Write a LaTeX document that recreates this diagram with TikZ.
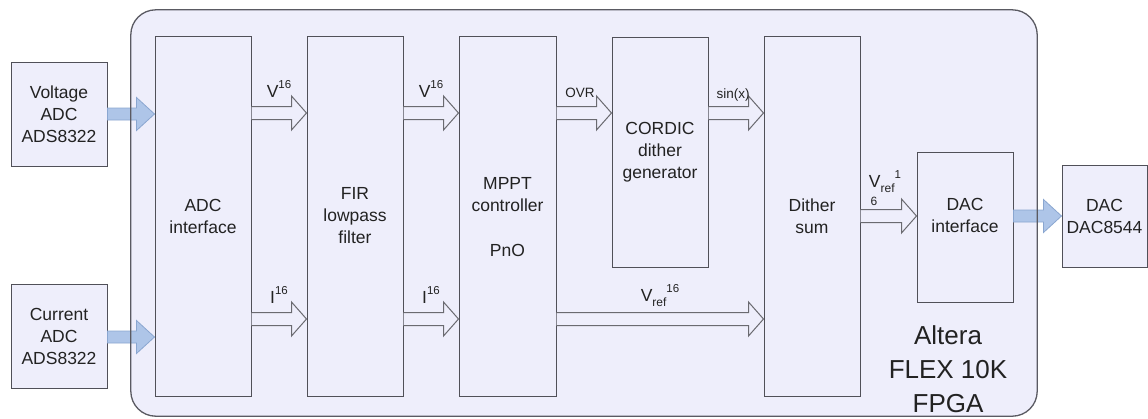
\documentclass[tikz,border=0pt]{standalone}
\usepackage{fontspec}
\setmainfont{Liberation Sans}
\usetikzlibrary{calc}
\definecolor{bg}{HTML}{EEEEFB}
\definecolor{edge}{HTML}{505058}
\definecolor{framegray}{HTML}{5A5A62}
\definecolor{arrgray}{HTML}{6A6A70}
\definecolor{blu}{HTML}{AEC5E8}
\definecolor{bluedge}{HTML}{8AA6D0}
\definecolor{txt}{HTML}{222222}
\newcommand\mainsz{\fontsize{17.5}{22}\selectfont}
\newcommand\smallsz{\fontsize{13.5}{16}\selectfont}
\newcommand\bigsz{\fontsize{26}{34}\selectfont}
\newcommand\supx[1]{\raisebox{0.5em}{\fontsize{11.5}{12}\selectfont #1}}
\newcommand\subx[1]{\raisebox{-0.3em}{\fontsize{12}{12}\selectfont #1}}
\newcommand\hollowarrow[2]{%
  \draw[harrow] ($(#1)+(0,-6.5)$) -- ($(#2)+(-15,-6.5)$) -- ($(#2)+(-15,-17)$) -- (#2)
    -- ($(#2)+(-15,17)$) -- ($(#2)+(-15,6.5)$) -- ($(#1)+(0,6.5)$);}
\newcommand\fatarrow[2]{%
  \draw[farrow] ($(#1)+(0,-6)$) -- ($(#2)+(-18,-6)$) -- ($(#2)+(-18,-16.5)$) -- (#2)
    -- ($(#2)+(-18,16.5)$) -- ($(#2)+(-18,6)$) -- ($(#1)+(0,6)$) -- cycle;}
\begin{document}
\begin{tikzpicture}[x=1pt,y=-1pt,
  blk/.style={draw=edge, fill=bg, line width=1pt, inner sep=0pt, align=center, font=\mainsz, text=txt},
  harrow/.style={draw=arrgray, fill=bg, line width=1pt, line join=miter},
  farrow/.style={draw=bluedge, fill=blu, line width=0.8pt, line join=miter},
  lbl/.style={inner sep=0pt, font=\mainsz, text=txt},
  slbl/.style={inner sep=0pt, font=\smallsz, text=txt},
  frameedge/.style={draw=framegray, line width=1.3pt}]
\useasboundingbox (0,0) rectangle (1148,418);

% FPGA frame (fill)
\node[fill=bg, rounded corners=25pt, minimum width=906pt, minimum height=406pt, inner sep=0pt] (fpga) at (584,213) {};

% outside boxes
\node[blk, minimum width=96pt, minimum height=104pt] (vadc) at (59,114) {Voltage\\ADC\\ADS8322};
\node[blk, minimum width=96pt, minimum height=104pt] (cadc) at (59,336) {Current\\ADC\\ADS8322};
\node[blk, minimum width=85pt, minimum height=102pt] (dac) at (1104.5,216) {DAC\\DAC8544};

% internal blocks
\node[blk, minimum width=96pt, minimum height=360pt] (adc) at (203,216) {ADC\\interface};
\node[blk, minimum width=96pt, minimum height=360pt] (fir) at (355,216) {FIR\\lowpass\\filter};
\node[blk, minimum width=97pt, minimum height=360pt] (mppt) at (507.5,216) {};
\node[lbl, align=center] (mpptt) at (507.5,194.5) {MPPT\\controller};
\node[lbl] (pno) at (507.5,250) {PnO};
\node[blk, minimum width=96pt, minimum height=230pt] (cordic) at (660,152) {CORDIC\\dither\\generator};
\node[blk, minimum width=96pt, minimum height=360pt] (dith) at (812,216) {Dither\\sum};
\node[blk, minimum width=96pt, minimum height=150pt] (dacif) at (965,227) {};
\node[lbl, align=center] (dacift) at (965,215.5) {DAC\\interface};

% connector end points
\coordinate (a1) at (adc.east |- 0,113);  \coordinate (b1) at (fir.west |- 0,113);
\coordinate (a2) at (adc.east |- 0,319);  \coordinate (b2) at (fir.west |- 0,319);
\coordinate (c1) at (fir.east |- 0,113);  \coordinate (d1) at (mppt.west |- 0,113);
\coordinate (c2) at (fir.east |- 0,319);  \coordinate (d2) at (mppt.west |- 0,319);
\coordinate (e1) at (mppt.east |- 0,113); \coordinate (f1) at (cordic.west |- 0,113);
\coordinate (g1) at (cordic.east |- 0,113); \coordinate (h1) at (dith.west |- 0,113);
\coordinate (e2) at (mppt.east |- 0,319); \coordinate (h2) at (dith.west |- 0,319);
\coordinate (i1) at (dith.east |- 0,216); \coordinate (j1) at (dacif.west |- 0,216);
\coordinate (k1) at (dacif.east |- 0,216); \coordinate (l1) at (dac.west |- 0,216);
\coordinate (v0) at (vadc.east |- 0,114); \coordinate (v1) at (adc.west |- 0,114);
\coordinate (w0) at (cadc.east |- 0,337); \coordinate (w1) at (adc.west |- 0,337);

% connectors
\fatarrow{v0}{v1}
\fatarrow{w0}{w1}
\hollowarrow{a1}{b1}
\hollowarrow{a2}{b2}
\hollowarrow{c1}{d1}
\hollowarrow{c2}{d2}
\hollowarrow{e1}{f1}
\hollowarrow{g1}{h1}
\hollowarrow{e2}{h2}
\hollowarrow{i1}{j1}
\fatarrow{k1}{l1}

% frame border on top
\draw[frameedge, rounded corners=25pt] (fpga.north west) rectangle (fpga.south east);

% labels
\node[lbl] (lv1) at (279,89) {V\supx{16}};
\node[lbl] (li1) at (279,295) {I\supx{16}};
\node[lbl] (lv2) at (431,89) {V\supx{16}};
\node[lbl] (li2) at (431,295) {I\supx{16}};
\node[slbl] (lovr) at (580,93) {OVR};
\node[slbl] (lsin) at (733,95) {sin(x)};
\node[lbl] (lvref) at (660,296) {V\subx{ref}\supx{16}};
\node[lbl] (lvref2) at (885,182) {V\subx{ref}\supx{1}};
\node[inner sep=0pt, font=\fontsize{12}{12}\selectfont, text=txt] (lsix) at (874,201) {6};
\node[lbl, font=\bigsz, align=center] (alt) at (948,369) {Altera\\FLEX 10K\\FPGA};
\end{tikzpicture}
\end{document}
